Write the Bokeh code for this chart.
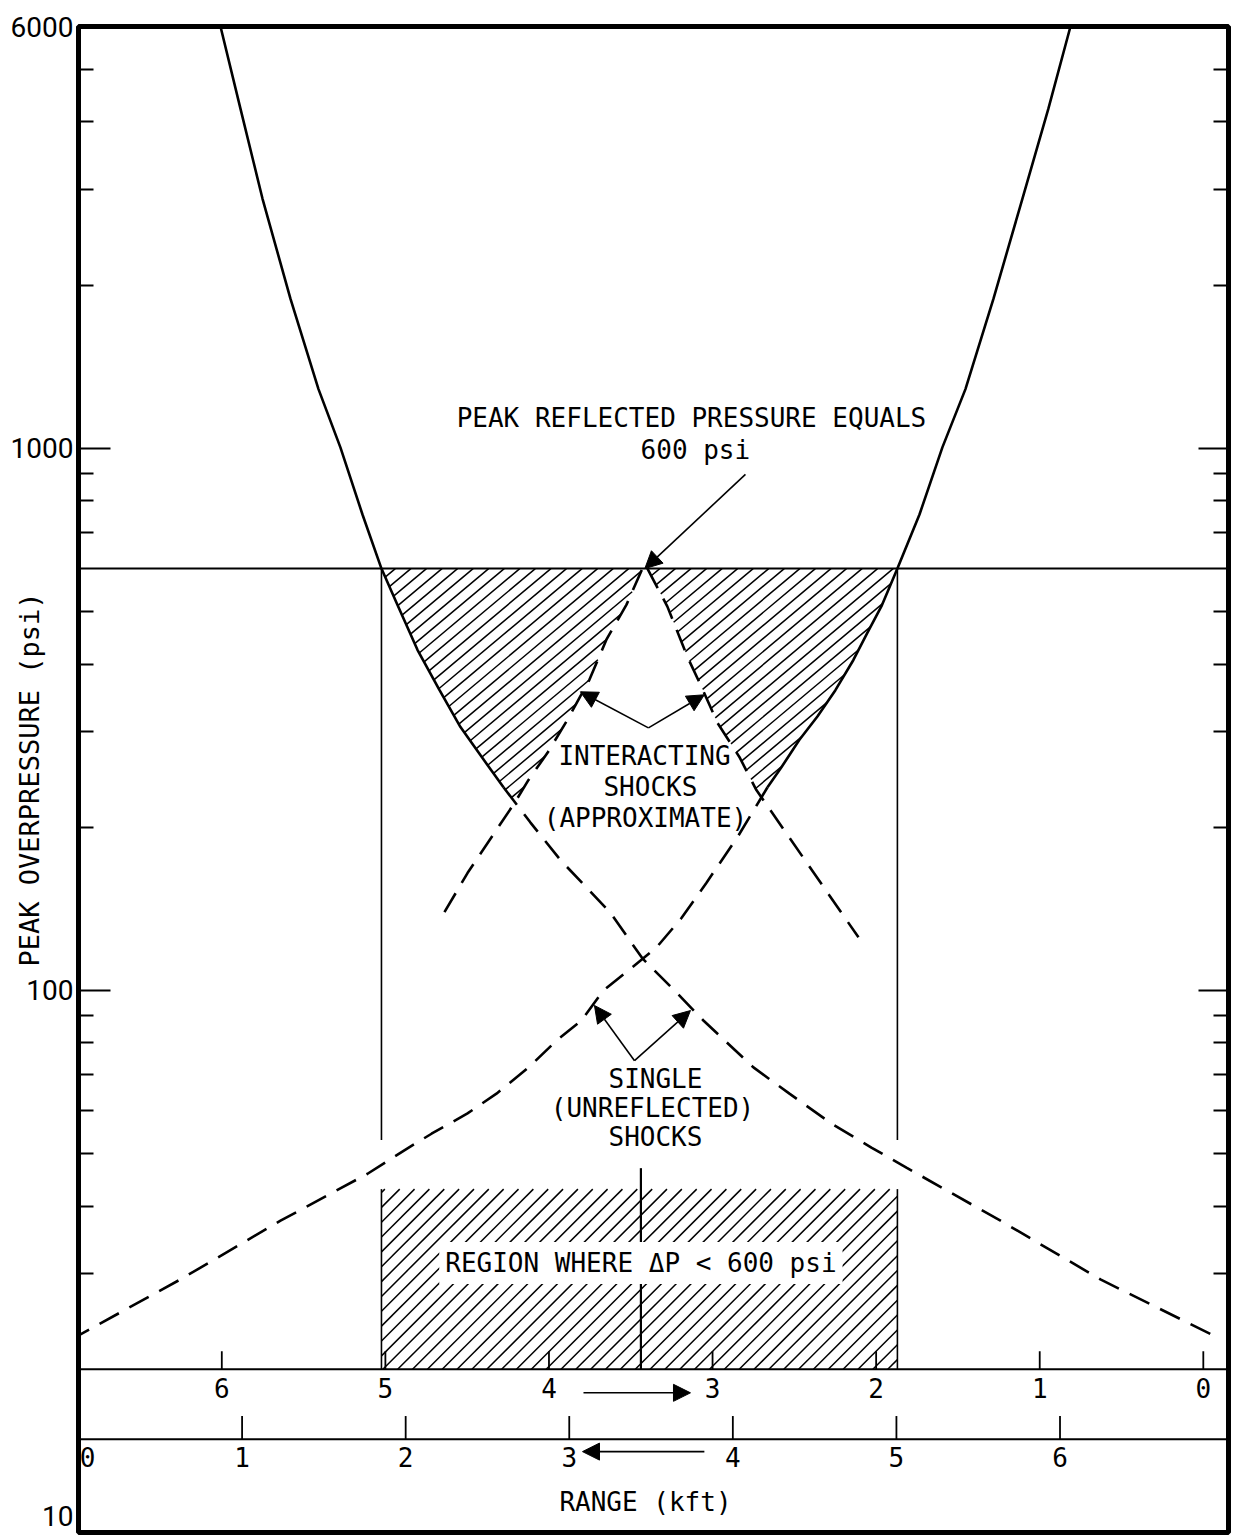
import numpy as np
from bokeh.plotting import figure
from bokeh.models import (Range1d, LogAxis, FixedTicker, CustomJSTickFormatter, Label,
                          Arrow, NormalHead, Span, ColumnDataSource)
from bokeh.embed import file_html
from bokeh.resources import INLINE
from bokeh.core.properties import value

# ------------------------------------------------------------------ data
Y_MAJOR = [10, 100, 1000, 6000]
Y_LABELS = ["10", "100", "1000", "6000"]
Y_MINOR = [30, 40, 50, 60, 70, 80, 90, 200, 300, 400, 500, 700, 800, 900,
           2000, 3000, 4000, 5000]
X_MAX = 7.03            # kft, lower range scale (distance from left burst)
SEPARATION = 6.876      # kft between the two bursts
P_LIMIT = 600           # psi
RANGE_TICKS = [0, 1, 2, 3, 4, 5, 6]
UPPER_SCALE_P = 20      # psi level of the upper range scale line
LOWER_SCALE_P = 14.86   # psi level of the lower range scale line
REGION_TOP_P = 43       # top of the hatched "region" band
VLINE_BOTTOM_P = 53
MIDLINE_TOP_P = 47

# single shock of the left burst (solid part, then dashed part)
left_solid_x = [0.868, 0.990, 1.125, 1.296, 1.467, 1.601, 1.736, 1.852, 1.944,
                2.072, 2.207, 2.335, 2.463, 2.598]
left_solid_p = [6000, 4233, 2886, 1886, 1286, 1004, 755, 600, 519, 425, 358,
                306, 270, 237]
left_dash_x = [2.598, 2.763, 2.946, 3.252, 3.447, 3.643, 3.820, 4.126, 4.346,
               4.603, 4.847, 5.061, 5.636, 6.247, 6.950]
left_dash_p = [237, 204, 174, 139, 114.6, 100, 88.0, 72.1, 64.5, 56.8, 51.3,
               47.1, 37.6, 29.3, 23.0]

# single shock of the right burst (solid part, then dashed part)
right_solid_x = [6.064, 5.929, 5.770, 5.593, 5.422, 5.281, 5.141, 5.006, 4.908,
                 4.823, 4.737, 4.627, 4.517, 4.407, 4.297, 4.212]
right_solid_p = [6000, 4233, 2886, 1886, 1286, 1004, 755, 600, 511, 457, 407,
                 358, 320, 290, 258, 237]
right_dash_x = [4.212, 4.034, 3.839, 3.686, 3.533, 3.380, 3.209, 3.075, 2.922,
                2.751, 2.555, 2.378, 2.158, 1.987, 1.767, 1.235, 0.623, 0.012]
right_dash_p = [237, 193, 158, 136, 120, 110, 100, 88.0, 80.8, 72.1, 64.5, 59.3,
                54.4, 50.6, 45.9, 37.6, 29.3, 23.2]

# interacting shocks (approximate)
inter_left_x = [2.237, 2.378, 2.665, 2.751, 2.867, 2.989, 3.123, 3.227, 3.350, 3.447]
inter_left_p = [139.4, 164.6, 221.6, 244.5, 274.3, 315.6, 374.1, 443.6, 514.8, 600]
inter_right_x = [3.478, 3.600, 3.722, 3.808, 3.906, 4.040, 4.144, 4.768]
inter_right_p = [600, 510.5, 412.6, 363.2, 311.6, 269.6, 234.2, 125.3]

# ------------------------------------------------------------------ layout / style
FRAME_W, FRAME_H = 1150, 1506
KX = FRAME_W / X_MAX                       # screen px per kft
KY = FRAME_H / np.log10(6000 / 10)         # screen px per decade


# ------------------------------------------------------------------ helpers
def x_at(lv, xs, ps):
    lp = np.log10(np.asarray(ps, float))
    xs = np.asarray(xs, float)
    o = np.argsort(lp)
    return np.interp(lv, lp[o], xs[o])


def hatch_polygon(outer_x, outer_p, inner_x, inner_p):
    lv = np.linspace(np.log10(min(inner_p)), np.log10(P_LIMIT), 600)
    xo = x_at(lv, outer_x, outer_p)
    xi = x_at(lv, inner_x, inner_p)
    s = np.sign(xi[-1] - xo[-1])
    ok = s * (xi - xo) > 0
    k = len(ok) - 1
    while k > 0 and ok[k - 1]:
        k -= 1
    lvs = lv[k:]
    px = list(xo[k:][::-1]) + list(xi[k:])
    py = list(10 ** lvs[::-1]) + list(10 ** lvs)
    return px, py


def hatch_lines(poly_x, poly_p, angle_deg, gap_px):
    """Parallel hatch strokes (screen angle, screen gap) clipped to a polygon."""
    u = np.asarray(poly_x, float) * KX
    w = np.log10(np.asarray(poly_p, float)) * KY
    a = np.radians(angle_deg)
    d = np.array([np.cos(a), np.sin(a)])
    n = np.array([-np.sin(a), np.cos(a)])
    s = u * n[0] + w * n[1]
    uu = np.append(u, u[0]); ww = np.append(w, w[0]); ss = np.append(s, s[0])
    xs, ys = [], []
    for c in np.arange(np.floor(s.min() / gap_px) * gap_px, s.max(), gap_px):
        pts = []
        for i in range(len(u)):
            s0, s1 = ss[i], ss[i + 1]
            if (s0 - c) * (s1 - c) < 0:
                t = (c - s0) / (s1 - s0)
                pu = uu[i] + t * (uu[i + 1] - uu[i])
                pw = ww[i] + t * (ww[i + 1] - ww[i])
                pts.append((pu * d[0] + pw * d[1], pu, pw))
        pts.sort()
        for j in range(0, len(pts) - 1, 2):
            (_, u0, w0), (_, u1, w1) = pts[j], pts[j + 1]
            xs.append([u0 / KX, u1 / KX])
            ys.append([10 ** (w0 / KY), 10 ** (w1 / KY)])
    return xs, ys


outer_l_x = left_solid_x + left_dash_x[1:]
outer_l_p = left_solid_p + left_dash_p[1:]
outer_r_x = right_solid_x + right_dash_x[1:]
outer_r_p = right_solid_p + right_dash_p[1:]

x_lim_left = float(x_at(np.log10(P_LIMIT), outer_l_x, outer_l_p))
x_lim_right = float(x_at(np.log10(P_LIMIT), outer_r_x, outer_r_p))

# ------------------------------------------------------------------ figure
p = figure(frame_width=FRAME_W, frame_height=FRAME_H, x_range=Range1d(0, X_MAX),
           y_range=Range1d(10, 6000), y_axis_type="log", x_axis_location=None,
           output_backend="svg", toolbar_location=None,
           min_border_left=78, min_border_right=8, min_border_top=26,
           min_border_bottom=4)
p.grid.visible = False
p.outline_line_color = "black"
p.outline_line_width = 5
p.background_fill_color = "white"
p.border_fill_color = "white"

FONT = value("DejaVu Sans Mono")

# left axis 1: tick marks only
ya = p.yaxis[0]
ya.ticker = FixedTicker(ticks=Y_MAJOR, minor_ticks=Y_MINOR)
ya.major_label_overrides = {v: "" for v in Y_MAJOR}
ya.major_label_text_font_size = "0px"
ya.major_label_standoff = 0
ya.axis_line_color = None
ya.major_tick_in = 32
ya.major_tick_out = 0
ya.minor_tick_in = 15
ya.minor_tick_out = 0
ya.major_tick_line_width = 2
ya.minor_tick_line_width = 2

# left axis 2: tick labels and axis title (the "10" label sits just above the corner)
label_ticks = [Y_MAJOR[0] * 10 ** (17 / KY)] + Y_MAJOR[1:]
la = LogAxis(ticker=FixedTicker(ticks=label_ticks, minor_ticks=[]),
             formatter=CustomJSTickFormatter(args=dict(labels=Y_LABELS),
                                             code="return labels[index];"),
             axis_line_color=None, major_tick_in=0, major_tick_out=0,
             minor_tick_in=0, minor_tick_out=0,
             major_label_text_font="Roboto", major_label_text_font_size="28px",
             major_label_text_color="black", major_label_standoff=5,
             axis_label="PEAK OVERPRESSURE (psi)",
             axis_label_text_font="DejaVu Sans Mono",
             axis_label_text_font_size="27px", axis_label_text_font_style="normal",
             axis_label_text_color="black", axis_label_standoff=-37)
p.add_layout(la, "left")

ra = LogAxis(ticker=FixedTicker(ticks=Y_MAJOR, minor_ticks=Y_MINOR),
             major_label_overrides={v: "" for v in Y_MAJOR},
             major_label_text_font_size="0px", major_label_standoff=0,
             axis_line_color=None, major_tick_in=30, major_tick_out=0,
             minor_tick_in=15, minor_tick_out=0,
             major_tick_line_width=2, minor_tick_line_width=2)
p.add_layout(ra, "right")

# hatched triangles
for ox, op, ix, ip in [(outer_l_x, outer_l_p, inter_left_x, inter_left_p),
                       (outer_r_x, outer_r_p, inter_right_x, inter_right_p)]:
    hx, hy = hatch_polygon(ox, op, ix, ip)
    lx, ly = hatch_lines(hx, hy, 40, 10)
    p.multi_line(lx, ly, line_color="black", line_width=1.5)

# hatched region band
bx = [x_lim_left, x_lim_right, x_lim_right, x_lim_left]
by = [UPPER_SCALE_P, UPPER_SCALE_P, REGION_TOP_P, REGION_TOP_P]
lx, ly = hatch_lines(bx, by, 45, 10.5)
p.multi_line(lx, ly, line_color="black", line_width=1.5)

# reference lines
p.add_layout(Span(location=P_LIMIT, dimension="width", line_color="black", line_width=2))
p.add_layout(Span(location=UPPER_SCALE_P, dimension="width", line_color="black", line_width=2))
p.add_layout(Span(location=LOWER_SCALE_P, dimension="width", line_color="black", line_width=2))
p.segment(x0=[x_lim_left, x_lim_right], y0=[P_LIMIT, P_LIMIT],
          x1=[x_lim_left, x_lim_right], y1=[VLINE_BOTTOM_P, VLINE_BOTTOM_P],
          line_color="black", line_width=1.6)
p.segment(x0=[x_lim_left, x_lim_right], y0=[REGION_TOP_P, REGION_TOP_P],
          x1=[x_lim_left, x_lim_right], y1=[UPPER_SCALE_P, UPPER_SCALE_P],
          line_color="black", line_width=1.6)
p.segment(x0=[SEPARATION / 2], y0=[MIDLINE_TOP_P], x1=[SEPARATION / 2],
          y1=[UPPER_SCALE_P], line_color="black", line_width=2.2)

# curves
p.line(left_solid_x, left_solid_p, line_color="black", line_width=2.6)
p.line(right_solid_x, right_solid_p, line_color="black", line_width=2.6)
for xs, ps in [(left_dash_x, left_dash_p), (right_dash_x, right_dash_p),
               (inter_left_x, inter_left_p), (inter_right_x, inter_right_p)]:
    p.line(xs, ps, line_color="black", line_width=2.6, line_dash="22 12")

# range scales
upper_x = [SEPARATION - r for r in RANGE_TICKS]
p.segment(x0=upper_x, y0=[UPPER_SCALE_P] * 7, x1=upper_x, y1=[21.6] * 7,
          line_color="black", line_width=1.8)
p.text(x=upper_x, y=[18.5] * 7, text=[str(r) for r in RANGE_TICKS],
       text_align="center", text_baseline="middle", text_font=FONT,
       text_font_size="26px", text_color="black")
p.segment(x0=RANGE_TICKS, y0=[LOWER_SCALE_P] * 7, x1=RANGE_TICKS, y1=[16.4] * 7,
          line_color="black", line_width=1.8)
p.text(x=RANGE_TICKS, y=[13.8] * 7, text=[str(r) for r in RANGE_TICKS],
       x_offset=[9, 0, 0, 0, 0, 0, 0],
       text_align="center", text_baseline="middle", text_font=FONT,
       text_font_size="26px", text_color="black")

# annotations (text)
ann = ColumnDataSource(dict(
    x=[3.747, 3.771, 3.460, 3.496, 3.466, 3.527, 3.509, 3.527, 3.466],
    y=[1136, 991, 270.5, 237, 208, 68.7, 60.7, 53.7, 11.4],
    t=["PEAK REFLECTED PRESSURE EQUALS", "600 psi", "INTERACTING", "SHOCKS",
       "(APPROXIMATE)", "SINGLE", "(UNREFLECTED)", "SHOCKS", "RANGE (kft)"]))
p.text(x="x", y="y", text="t", source=ann, text_align="center",
       text_baseline="middle", text_font=FONT, text_font_size="26px",
       text_color="black")

p.add_layout(Label(x=SEPARATION / 2, y=31.4, text="REGION WHERE ΔP < 600 psi",
                   text_align="center", text_baseline="middle", text_font="DejaVu Sans Mono",
                   text_font_size="26px", text_color="black",
                   background_fill_color="white", padding=6))

# arrows
def arrow(x0, y0, x1, y1):
    p.add_layout(Arrow(end=NormalHead(size=17, fill_color="black", line_color="black"),
                       x_start=x0, y_start=y0, x_end=x1, y_end=y1,
                       line_color="black", line_width=1.6))

arrow(4.077, 895, 3.462, 600)
arrow(3.484, 305, 3.068, 355.5)
arrow(3.484, 305, 3.826, 351)
arrow(3.399, 74.2, 3.154, 93.8)
arrow(3.399, 74.2, 3.741, 91.8)
arrow(3.087, 18.1, 3.741, 18.1)
arrow(3.826, 14.1, 3.081, 14.1)

open("out.html", "w").write(file_html(p, INLINE))
